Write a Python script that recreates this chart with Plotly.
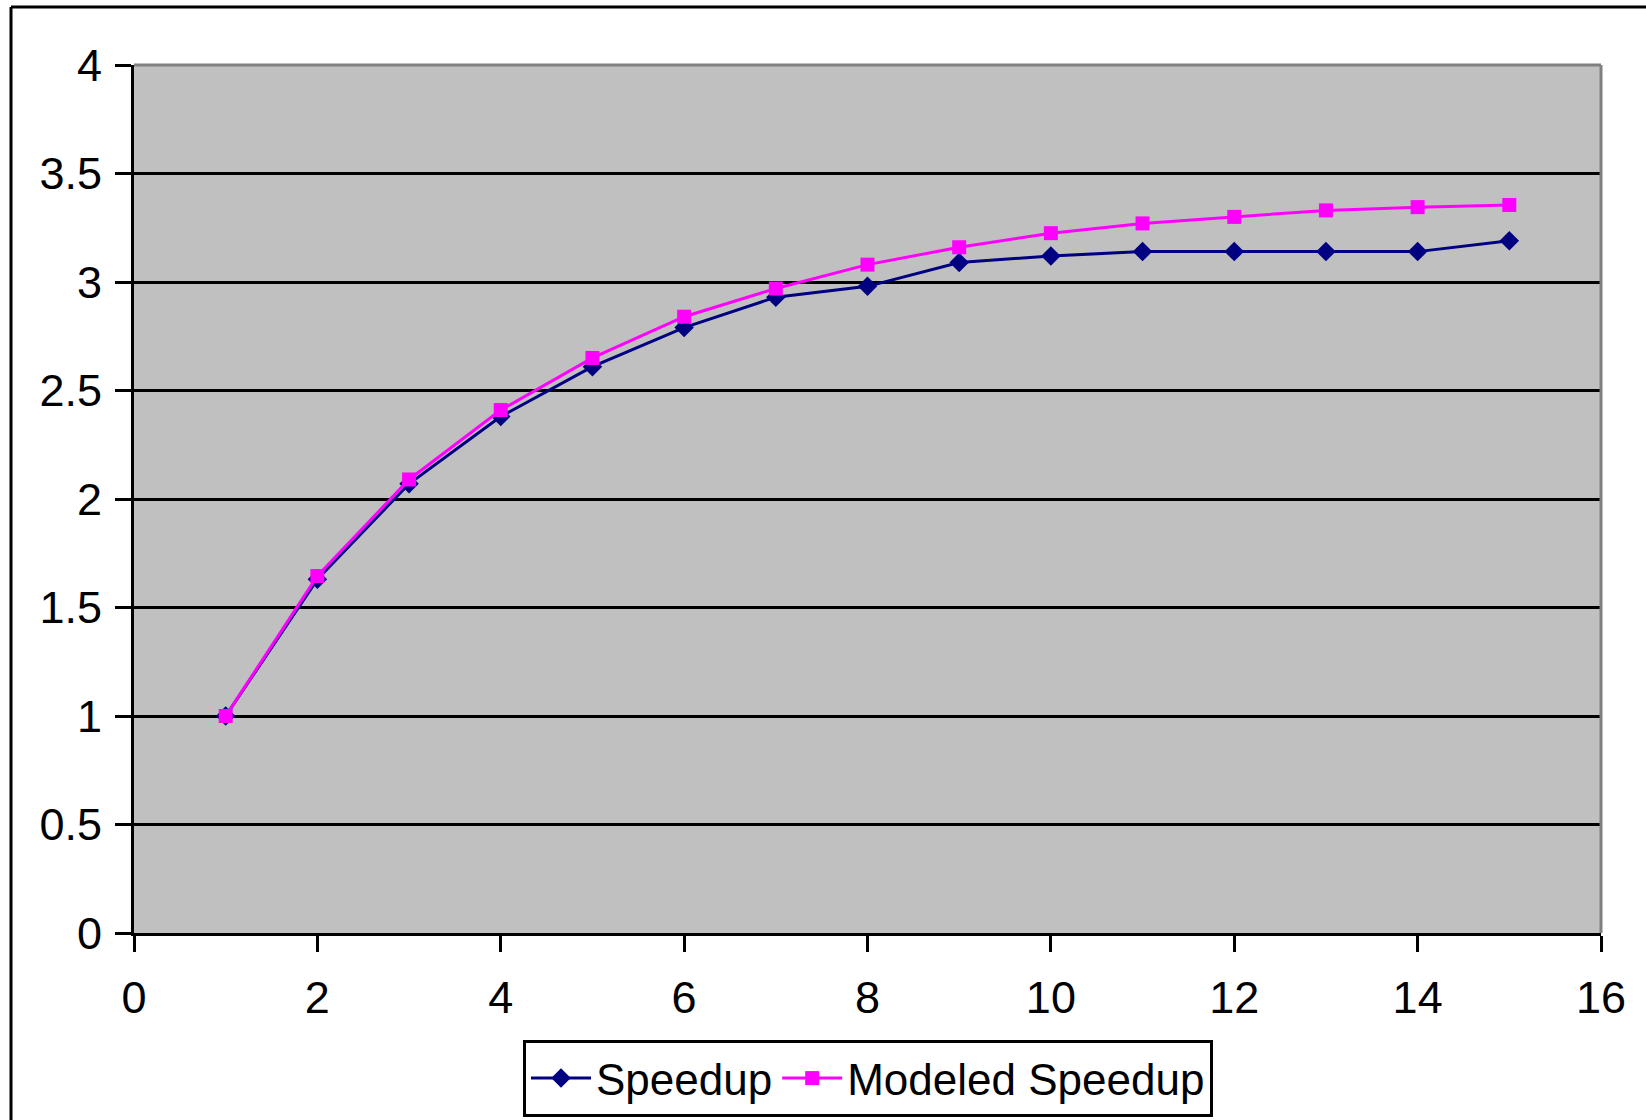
import plotly.graph_objects as go

# Number of processors and measured / modeled speedup
processors = [1, 2, 3, 4, 5, 6, 7, 8, 9, 10, 11, 12, 13, 14, 15]
speedup = [1.0, 1.63, 2.07, 2.38, 2.61, 2.79, 2.93, 2.98, 3.09, 3.12, 3.14, 3.14, 3.14, 3.14, 3.19]
modeled_speedup = [1.0, 1.645, 2.09, 2.41, 2.65, 2.84, 2.97, 3.08, 3.16, 3.225, 3.27, 3.30, 3.33, 3.345, 3.355]

x_ticks = [0, 2, 4, 6, 8, 10, 12, 14, 16]
y_ticks = [0, 0.5, 1, 1.5, 2, 2.5, 3, 3.5, 4]
y_tick_labels = ["0", "0.5", "1", "1.5", "2", "2.5", "3", "3.5", "4"]

W, H = 1646, 1120
L, R, T, B = 134, 1601, 65, 933  # plot area in pixels


def px(x):
    return (x - L) / (R - L)


def py(y):
    return (B - y) / (B - T)


FONT = "Liberation Sans, Arial, sans-serif"

fig = go.Figure()
fig.add_trace(go.Scatter(
    x=processors, y=speedup, name="Speedup", mode="lines+markers",
    line=dict(color="#000080", width=3),
    marker=dict(symbol="diamond", size=15, color="#000080"),
))
fig.add_trace(go.Scatter(
    x=processors, y=modeled_speedup, name="Modeled Speedup", mode="lines+markers",
    line=dict(color="#FF00FF", width=3),
    marker=dict(symbol="square", size=14, color="#FF00FF"),
))

shapes = [
    # grey frame on the top and right of the plot area
    dict(type="line", xref="paper", yref="paper", x0=0, x1=1, y0=1, y1=1,
         line=dict(color="#808080", width=3), layer="above"),
    dict(type="line", xref="paper", yref="paper", x0=1, x1=1, y0=0, y1=1,
         line=dict(color="#808080", width=3), layer="above"),
    # outer chart border (top and left)
    dict(type="line", xref="paper", yref="paper", x0=px(11), x1=px(W + 5), y0=py(7), y1=py(7),
         line=dict(color="black", width=3)),
    dict(type="line", xref="paper", yref="paper", x0=px(11), x1=px(11), y0=py(7), y1=py(H + 5),
         line=dict(color="black", width=3)),
]

fig.update_layout(
    width=W, height=H,
    margin=dict(l=L, r=W - R, t=T, b=H - B, pad=0, autoexpand=False),
    paper_bgcolor="white",
    plot_bgcolor="#C0C0C0",
    font=dict(family=FONT, size=45, color="black"),
    shapes=shapes,
    showlegend=True,
    legend=dict(
        orientation="h", x=px(868), xanchor="center", y=py(1117), yanchor="bottom",
        bgcolor="white", bordercolor="black", borderwidth=3,
        font=dict(family=FONT, size=44, color="black"),
        itemwidth=60, tracegroupgap=0,
    ),
    xaxis=dict(
        range=[0, 16], tickvals=x_ticks, ticktext=[str(v) for v in x_ticks],
        showgrid=False, zeroline=False, showline=True, linecolor="black", linewidth=3,
        ticks="outside", ticklen=16, tickwidth=3, tickcolor="black",
        ticklabelstandoff=7,
    ),
    yaxis=dict(
        range=[0, 4], tickvals=y_ticks, ticktext=y_tick_labels,
        showgrid=True, gridcolor="black", gridwidth=3, zeroline=False,
        showline=True, linecolor="black", linewidth=3,
        ticks="outside", ticklen=16, tickwidth=3, tickcolor="black",
        ticklabelstandoff=4,
    ),
)

fig.write_html("out.html")
